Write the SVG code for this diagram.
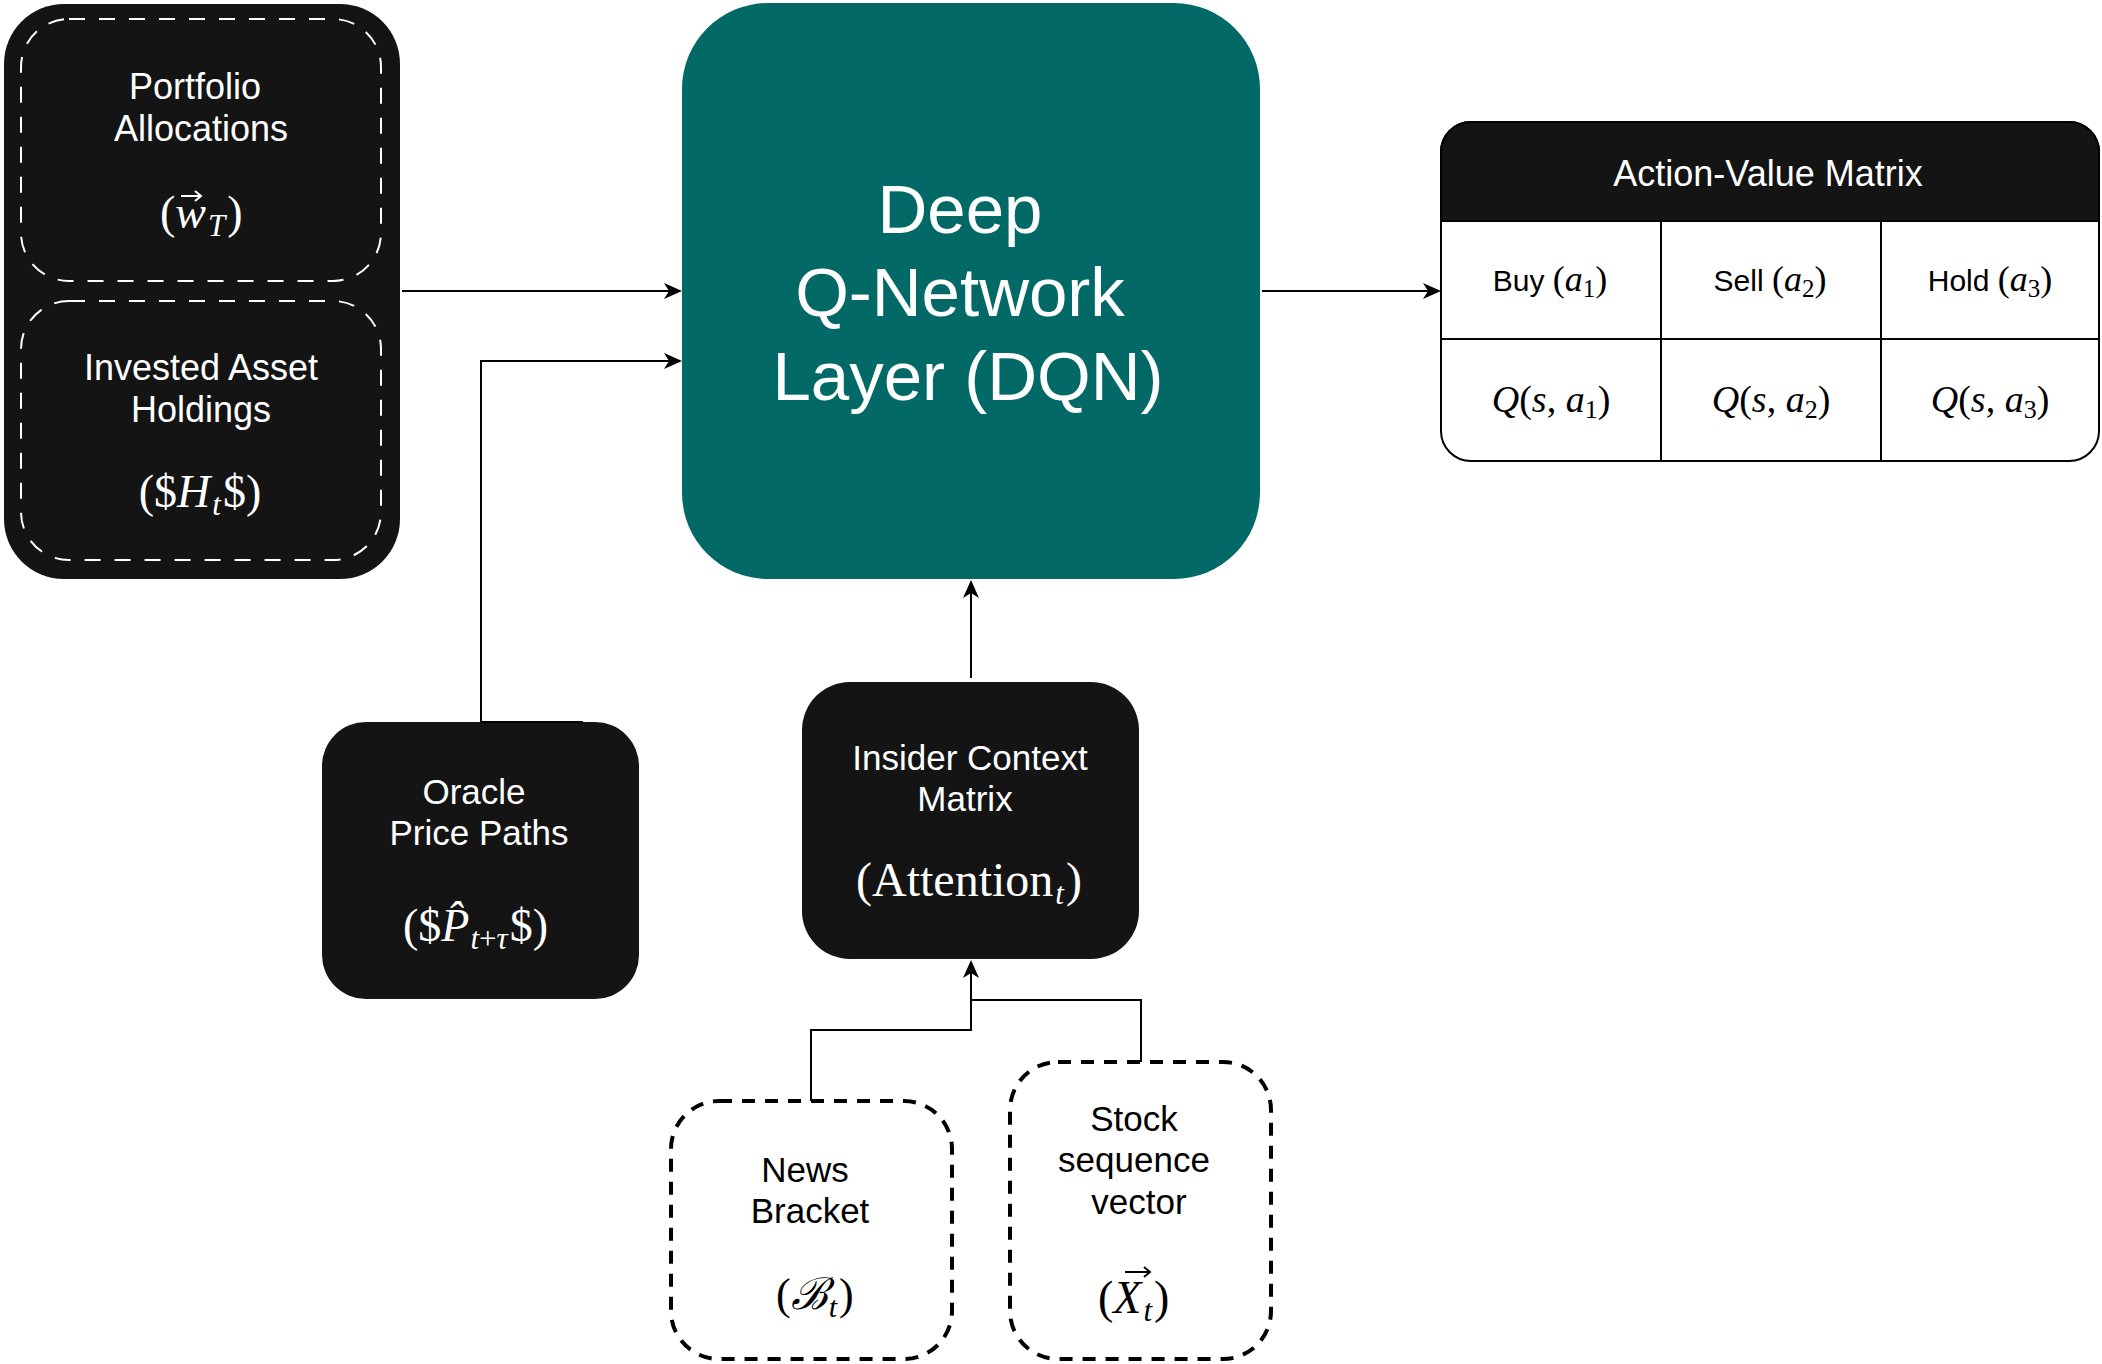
<svg xmlns="http://www.w3.org/2000/svg" width="2102" height="1364" viewBox="0 0 2102 1364">
<defs>
<marker id="arr" markerWidth="18" markerHeight="16" refX="16" refY="8" orient="auto" markerUnits="userSpaceOnUse">
<path d="M0,0 L18,8 L0,16 L5,8 Z" fill="#000"/>
</marker>
<style>
.blk{fill:#141414;}
.wdash{fill:none;stroke:#fff;stroke-width:2;stroke-dasharray:16 14;}
.bdash{fill:#fff;stroke:#000;stroke-width:4;stroke-dasharray:13 10;}
.sans{font-family:"Liberation Sans",Arial,sans-serif;}
.math{font-family:"Liberation Serif","DejaVu Serif",serif;}
.w{fill:#fff;}
.k{fill:#000;}
.it{font-style:italic;}
.conn{fill:none;stroke:#000;stroke-width:2;}
</style>
</defs>
<rect width="2102" height="1364" fill="#fff"/>

<g id="state-group">
<rect class="blk" x="4" y="4" width="396" height="575" rx="60"/>
</g>
<g id="portfolio">
<rect class="wdash" x="21" y="19" width="360" height="262" rx="48"/>
<text class="sans w" font-size="36" text-anchor="middle"><tspan x="195" y="99">Portfolio</tspan><tspan x="201" y="141">Allocations</tspan></text>
<text class="math w" font-size="46" x="160" y="228">(<tspan class="it">w</tspan><tspan class="it" font-size="31" dx="2" dy="8">T</tspan><tspan dx="2" dy="-8">)</tspan></text>
<path d="M181,196 H200 M195,191 L201,196 L195,201" stroke="#fff" stroke-width="2" fill="none"/>
</g>
<g id="holdings">
<rect class="wdash" x="21" y="301" width="360" height="259" rx="48"/>
<text class="sans w" font-size="36" text-anchor="middle"><tspan x="201" y="380">Invested Asset</tspan><tspan x="201" y="422">Holdings</tspan></text>
<text class="math w" font-size="46" text-anchor="middle" x="200" y="507">($<tspan class="it">H</tspan><tspan class="it" font-size="31" dx="2" dy="8">t</tspan><tspan dx="2" dy="-8">$)</tspan></text>
</g>

<g id="dqn">
<rect x="682" y="3" width="578" height="576" rx="86" fill="#026966"/>
<text class="sans w" font-size="69" text-anchor="middle"><tspan x="960" y="233">Deep</tspan><tspan x="960" y="316">Q-Network</tspan><tspan x="968" y="400">Layer (DQN)</tspan></text>
</g>

<g id="action-value-matrix">
<rect x="1441" y="122" width="658" height="339" rx="30" fill="#fff" stroke="#000" stroke-width="2"/>
<path d="M1441,221 V152 A30,30 0 0 1 1471,122 H2069 A30,30 0 0 1 2099,152 V221 Z" fill="#141414" stroke="#000" stroke-width="2"/>
<path d="M1441,339 H2099 M1661,221 V461 M1881,221 V461" stroke="#000" stroke-width="2" fill="none"/>
<text class="sans w" font-size="36" text-anchor="middle" x="1768" y="186">Action-Value Matrix</text>
<text class="sans k" font-size="30" text-anchor="middle" x="1550" y="291">Buy <tspan class="math" font-size="36">(<tspan class="it">a</tspan><tspan font-size="25" dy="6">1</tspan><tspan dy="-6">)</tspan></tspan></text>
<text class="sans k" font-size="30" text-anchor="middle" x="1770" y="291">Sell <tspan class="math" font-size="36">(<tspan class="it">a</tspan><tspan font-size="25" dy="6">2</tspan><tspan dy="-6">)</tspan></tspan></text>
<text class="sans k" font-size="30" text-anchor="middle" x="1990" y="291">Hold <tspan class="math" font-size="36">(<tspan class="it">a</tspan><tspan font-size="25" dy="6">3</tspan><tspan dy="-6">)</tspan></tspan></text>
<text class="math k" font-size="38" text-anchor="middle" x="1551" y="412"><tspan class="it">Q</tspan>(<tspan class="it">s</tspan>, <tspan class="it">a</tspan><tspan font-size="26" dy="6">1</tspan><tspan dy="-6">)</tspan></text>
<text class="math k" font-size="38" text-anchor="middle" x="1771" y="412"><tspan class="it">Q</tspan>(<tspan class="it">s</tspan>, <tspan class="it">a</tspan><tspan font-size="26" dy="6">2</tspan><tspan dy="-6">)</tspan></text>
<text class="math k" font-size="38" text-anchor="middle" x="1990" y="412"><tspan class="it">Q</tspan>(<tspan class="it">s</tspan>, <tspan class="it">a</tspan><tspan font-size="26" dy="6">3</tspan><tspan dy="-6">)</tspan></text>
</g>

<g id="oracle">
<rect class="blk" x="322" y="722" width="317" height="277" rx="44"/>
<text class="sans w" font-size="35" text-anchor="middle"><tspan x="474" y="804">Oracle</tspan><tspan x="479" y="845">Price Paths</tspan></text>
<text class="math w" font-size="46" x="403" y="941">($<tspan class="it">P̂</tspan><tspan class="it" font-size="31" dx="1" dy="8">t</tspan><tspan font-size="31">+</tspan><tspan class="it" font-size="31">τ</tspan><tspan dx="2" dy="-8">$)</tspan></text>
</g>

<g id="insider">
<rect class="blk" x="802" y="682" width="337" height="277" rx="48"/>
<text class="sans w" font-size="35" text-anchor="middle"><tspan x="970" y="770">Insider Context</tspan><tspan x="965" y="811">Matrix</tspan></text>
<text class="math w" font-size="48" text-anchor="middle" x="969" y="896">(Attention<tspan class="it" font-size="31" dx="2" dy="8">t</tspan><tspan dx="2" dy="-8">)</tspan></text>
</g>

<g id="news">
<rect class="bdash" x="671" y="1101" width="281" height="258" rx="48"/>
<text class="sans k" font-size="35" text-anchor="middle"><tspan x="805" y="1182">News</tspan><tspan x="810" y="1223">Bracket</tspan></text>
<text class="math k" font-size="44" x="776" y="1309">(<tspan class="it">ℬ</tspan><tspan class="it" font-size="30" dx="1" dy="8">t</tspan><tspan dx="2" dy="-8">)</tspan></text>
</g>

<g id="stock">
<rect class="bdash" x="1010" y="1062" width="261" height="297" rx="48"/>
<text class="sans k" font-size="35" text-anchor="middle"><tspan x="1134" y="1131">Stock</tspan><tspan x="1134" y="1172">sequence</tspan><tspan x="1139" y="1214">vector</tspan></text>
<text class="math k" font-size="46" x="1098" y="1313">(<tspan class="it">X</tspan><tspan class="it" font-size="31" dx="2" dy="8">t</tspan><tspan dx="2" dy="-8">)</tspan></text>
<path d="M1125,1272 H1149 M1144,1267 L1150,1272 L1144,1277" stroke="#000" stroke-width="2" fill="none"/>
</g>

<g id="connectors">
<path class="conn" d="M402,291 H680" marker-end="url(#arr)"/>
<path class="conn" d="M583,722 H481 V361 H680" marker-end="url(#arr)"/>
<path class="conn" d="M1262,291 H1439" marker-end="url(#arr)"/>
<path class="conn" d="M971,678 V582" marker-end="url(#arr)"/>
<path class="conn" d="M811,1101 V1030 H971 V962" marker-end="url(#arr)"/>
<path class="conn" d="M1141,1062 V1000 H971"/>
</g>
</svg>
